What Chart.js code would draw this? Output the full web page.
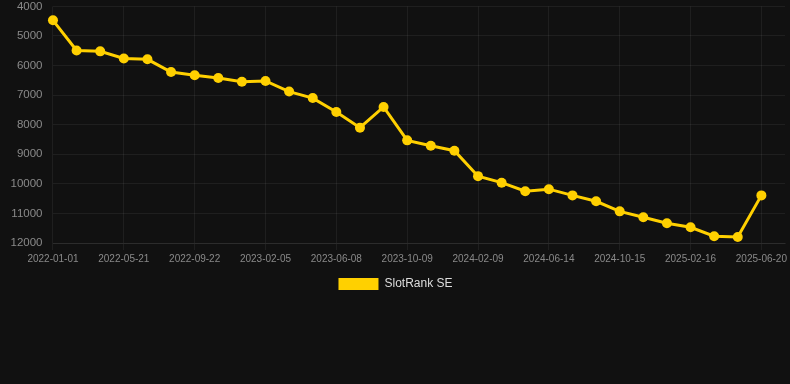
<!DOCTYPE html>
<html>
<head>
<meta charset="utf-8">
<script src="https://cdn.jsdelivr.net/npm/chart.js@4/dist/chart.umd.min.js"></script>
<style>
  html, body { margin: 0; padding: 0; background: #111111; overflow: hidden; }
  #wrap { width: 791px; height: 311px; margin-top: -11px; }
</style>
</head>
<body>
<div id="wrap"><canvas id="myChart"></canvas></div>
<script>
// dates: every third one is read off the axis, the rest are estimated
const dates = [
  "2022-01-01", "2022-02-16", "2022-04-04",
  "2022-05-21", "2022-07-01", "2022-08-11",
  "2022-09-22", "2022-11-06", "2022-12-22",
  "2023-02-05", "2023-03-18", "2023-04-28",
  "2023-06-08", "2023-07-19", "2023-08-29",
  "2023-10-09", "2023-11-19", "2023-12-30",
  "2024-02-09", "2024-03-21", "2024-05-03",
  "2024-06-14", "2024-07-25", "2024-09-04",
  "2024-10-15", "2024-11-25", "2025-01-06",
  "2025-02-16", "2025-03-29", "2025-05-09",
  "2025-06-20", ""
];
const rank = [
  4470, 5490, 5520, 5760, 5790, 6220, 6330, 6420, 6550, 6520,
  6880, 7100, 7570, 8100, 7400, 8530, 8710, 8880, 9740, 9960,
  10250, 10180, 10390, 10590, 10930, 11130, 11330, 11470, 11770, 11800,
  10390, null
];
const seriesName = "SlotRank SE";
const yMin = 4000;
const yMax = 12000;
const yStep = 1000;

const ctx = document.getElementById('myChart');
const gridColor = 'rgba(255,255,255,0.06)';
const tickColor = '#8a8a8a';
const yellow = '#FFD000';

new Chart(ctx, {
  type: 'line',
  data: {
    labels: dates,
    datasets: [{
      label: seriesName,
      data: rank,
      borderColor: yellow,
      backgroundColor: yellow,
      borderWidth: 3,
      pointRadius: 5,
      pointBorderWidth: 0,
      pointHoverRadius: 6,
      tension: 0
    }]
  },
  options: {
    responsive: true,
    maintainAspectRatio: false,
    animation: false,
    scales: {
      x: {
        grid: { color: gridColor, tickLength: 7 },
        border: { color: gridColor },
        ticks: {
          color: tickColor,
          font: { family: 'Liberation Sans, Arial, sans-serif', size: 10 },
          maxRotation: 0,
          autoSkip: true
        }
      },
      y: {
        reverse: true,
        min: yMin,
        max: yMax,
        grid: { color: gridColor, drawTicks: false },
        border: { display: false },
        ticks: {
          stepSize: yStep,
          color: tickColor,
          padding: 10.5,
          font: { family: 'Liberation Sans, Arial, sans-serif', size: 11.5 },
          callback: v => String(v)
        }
      }
    },
    plugins: {
      legend: {
        position: 'bottom',
        labels: {
          color: '#dddddd',
          boxWidth: 40,
          boxHeight: 12,
          font: { family: 'Liberation Sans, Arial, sans-serif', size: 12 },
          generateLabels: function (chart) {
            const items = Chart.defaults.plugins.legend.labels.generateLabels(chart);
            items.forEach(it => { it.lineWidth = 0; it.fillStyle = yellow; });
            return items;
          }
        }
      }
    }
  }
});
</script>
</body>
</html>
